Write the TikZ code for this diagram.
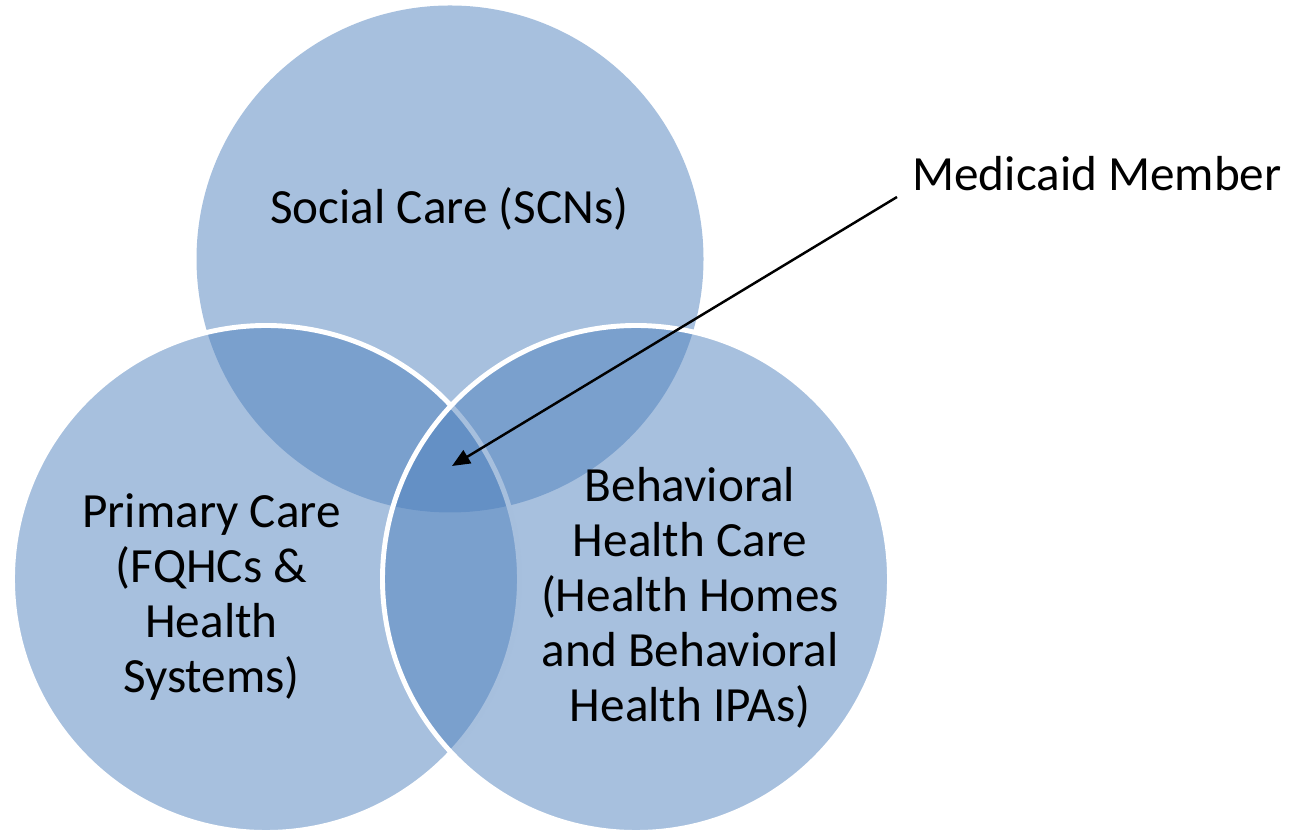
\documentclass[tikz,border=0pt]{standalone}
\usepackage{fontspec}
\setmainfont{Carlito}
\usetikzlibrary{arrows.meta}
\definecolor{vennblue}{HTML}{4F81BD}

\begin{document}
\begin{tikzpicture}[
    venn/.style={fill=vennblue, fill opacity=0.5},
    rim/.style={draw=white, line width=2.8pt},
    vtext/.style={font=\fontsize{28}{31.3}\selectfont, align=center, inner sep=0pt},
    pointer/.style={-{Triangle[length=0.36cm, width=0.3cm]}, line width=1.4pt}
]
    \useasboundingbox (0,0) rectangle (25.78,16.66);

    % Three overlapping circles
    \fill[venn] (9.0,11.48) circle (5.07);
    \draw[venn, rim] (5.32,5.08) circle (5.07);
    \draw[venn, rim] (12.72,5.08) circle (5.07);

    % Circle labels
    \node[vtext, anchor=base] (social) at (8.99,12.19) {Social Care (SCNs)};
    \node[vtext] (primary) at (4.23,4.71) {Primary Care\\(FQHCs \&\\Health\\Systems)};
    \node[vtext] (behavioral) at (13.8,4.71) {Behavioral\\Health Care\\(Health Homes\\and Behavioral\\Health IPAs)};

    % Pointer to the centre
    \node[vtext, anchor=base] (member) at (21.94,12.84) {Medicaid Member};
    \coordinate (tail) at (17.94,12.72);
    \coordinate (core) at (9.04,7.34);
    \draw[pointer] (tail) -- (core);
\end{tikzpicture}
\end{document}
